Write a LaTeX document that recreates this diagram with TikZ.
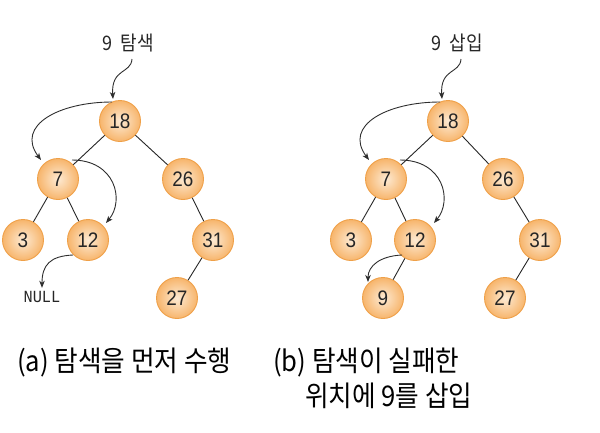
\documentclass[tikz,border=0pt]{standalone}
\usepackage{fontspec}
\setmainfont{Noto Sans CJK KR}
\newfontfamily\numfont[FakeStretch=0.9]{Liberation Sans}
\newfontfamily\nullfnt[FakeStretch=0.9]{Liberation Mono}
\newfontfamily\korfont[FakeStretch=0.9]{Noto Sans CJK KR}
\usetikzlibrary{arrows.meta}
\definecolor{nodein}{HTML}{FDEAD3}
\definecolor{nodeout}{HTML}{F7B56C}
\definecolor{nodeline}{HTML}{EFA048}
\definecolor{arr}{HTML}{2E2E2E}
\tikzset{
  tnode/.style={circle, minimum size=41pt, inner sep=0pt, draw=nodeline, line width=0.9pt,
    inner color=nodein, outer color=nodeout, font=\numfont\fontsize{21}{21}\selectfont, text=black!85},
  tedge/.style={draw=black!85, line width=0.9pt},
  trace/.style={draw=arr, line width=0.9pt, -{Stealth[length=7pt,width=5.5pt,inset=2pt]}},
  toplabel/.style={font=\korfont\fontsize{20}{20}\selectfont, text=black!85},
  caption/.style={font=\korfont\fontsize{28.5}{28.5}\selectfont, anchor=west, inner sep=0pt, text=black}
}
\begin{document}
\begin{tikzpicture}[x=1pt,y=-1pt]
\useasboundingbox (0,0) rectangle (600,432);
% ---------- (a) ----------
\node[tnode] (a18) at (120,121) {18};
\node[tnode] (a7) at (58,179) {7};
\node[tnode] (a26) at (183,179) {26};
\node[tnode] (a3) at (23,240) {3};
\node[tnode] (a12) at (88,240) {12};
\node[tnode] (a31) at (213,240) {31};
\node[tnode] (a27) at (177,298) {27};
\draw[tedge] (a18) -- (a7);
\draw[tedge] (a18) -- (a26);
\draw[tedge] (a7) -- (a3);
\draw[tedge] (a7) -- (a12);
\draw[tedge] (a26) -- (a31);
\draw[tedge] (a31) -- (a27);
\node[toplabel] (alab) at (128,43) {9\ \ 탐색};
\node[font=\nullfnt\fontsize{17}{17}\selectfont, text=black!85] (anull) at (42,297) {NULL};
\coordinate (as) at (132,59);
\coordinate (ae) at (113,99);
\draw[trace] (as) .. controls (131,74) and (111,68) .. (ae);
\coordinate (a18s) at (112,102);
\coordinate (a7e) at (41,160);
\draw[trace] (a18s) .. controls (60,102) and (15,125) .. (a7e);
\coordinate (a7s) at (72,160);
\coordinate (a12e) at (106,223);
\draw[trace] (a7s) .. controls (115,160) and (125,200) .. (a12e);
\coordinate (a12s) at (73,255);
\draw[trace] (a12s) .. controls (50,256) and (42,265) .. (anull.north);
% ---------- (b) ----------
\node[tnode] (b18) at (448,121) {18};
\node[tnode] (b7) at (386,179) {7};
\node[tnode] (b26) at (503,179) {26};
\node[tnode] (b3) at (351,240) {3};
\node[tnode] (b12) at (415,240) {12};
\node[tnode] (b31) at (540,240) {31};
\node[tnode] (b9) at (383,298) {9};
\node[tnode] (b27) at (505,298) {27};
\draw[tedge] (b18) -- (b7);
\draw[tedge] (b18) -- (b26);
\draw[tedge] (b7) -- (b3);
\draw[tedge] (b7) -- (b12);
\draw[tedge] (b26) -- (b31);
\draw[tedge] (b31) -- (b27);
\draw[tedge] (b12) -- (b9);
\node[toplabel] (blab) at (457,43) {9\ \ 삽입};
\coordinate (bs) at (461,59);
\coordinate (be) at (442,99);
\draw[trace] (bs) .. controls (460,74) and (440,68) .. (be);
\coordinate (b18s) at (440,102);
\coordinate (b7e) at (369,160);
\draw[trace] (b18s) .. controls (388,102) and (343,125) .. (b7e);
\coordinate (b7s) at (400,160);
\coordinate (b12e) at (434,223);
\draw[trace] (b7s) .. controls (443,160) and (453,200) .. (b12e);
\coordinate (b12s) at (402,255);
\coordinate (b9e) at (368,282);
\draw[trace] (b12s) .. controls (380,256) and (368,266) .. (b9e);
% ---------- captions ----------
\node[caption] (capa) at (17,362) {(a) 탐색을 먼저 수행};
\node[caption] (capb1) at (273,362) {(b) 탐색이 실패한};
\node[caption] (capb2) at (305,396) {위치에 9를 삽입};
\end{tikzpicture}
\end{document}
